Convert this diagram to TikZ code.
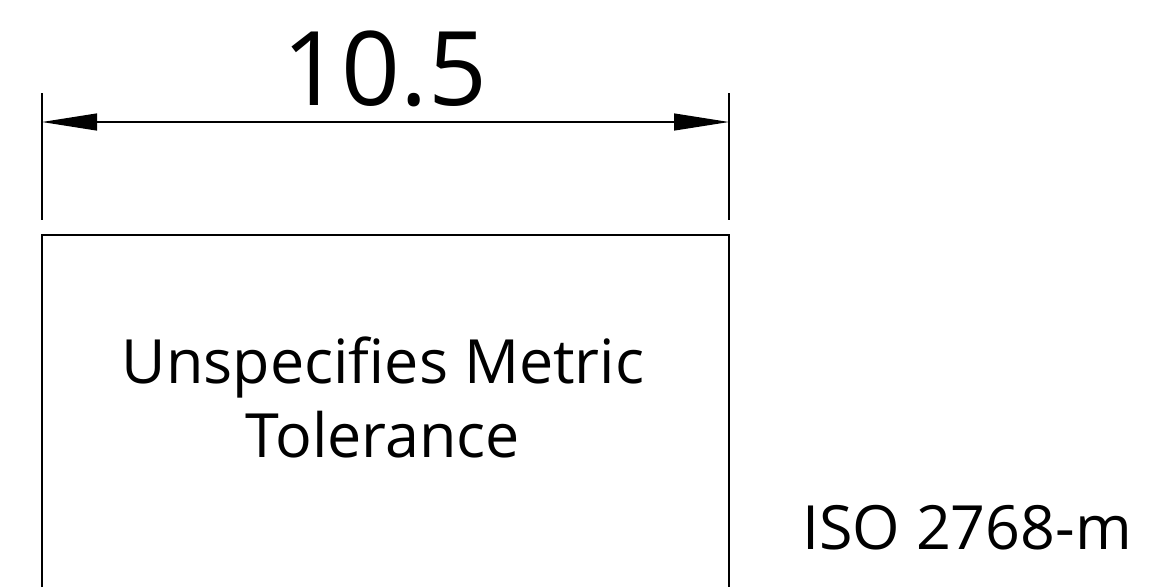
\documentclass[tikz,border=0pt]{standalone}
\usepackage{fontspec}
\setmainfont{Open Sans}
\usetikzlibrary{arrows.meta}

\begin{document}
\begin{tikzpicture}[x=1pt, y=-1pt,
    dimline/.style={line width=1.2pt, {Triangle[length=55pt, width=17pt]}-{Triangle[length=55pt, width=17pt]}},
    extline/.style={line width=1.2pt},
    part/.style={line width=1.8pt}]
  \useasboundingbox (0,0) rectangle (1153,587);
  % extension lines
  \coordinate (extL) at (42,93);
  \coordinate (extR) at (729,93);
  \coordinate (dimL) at (42,122);
  \coordinate (dimR) at (729,122);
  \draw[extline] (extL) -- (42,220);
  \draw[extline] (extR) -- (729,220);
  \draw[dimline] (dimL) -- (dimR);
  \node[anchor=base, inner sep=0pt, font=\fontsize{103}{110}\selectfont] (dimtext) at (385,105) {10.5};
  % part outline, cut at the bottom
  \draw[part] (42,587) -- (42,235) -- (729,235) -- (729,587);
  \node[anchor=base, inner sep=0pt, align=center, font=\fontsize{61}{74}\selectfont] (note) at (383,457) {Unspecifies Metric\\Tolerance};
  \node[anchor=base west, inner sep=0pt, font=\fontsize{61}{64}\selectfont] (iso) at (802,549) {ISO 2768-m};
\end{tikzpicture}
\end{document}
